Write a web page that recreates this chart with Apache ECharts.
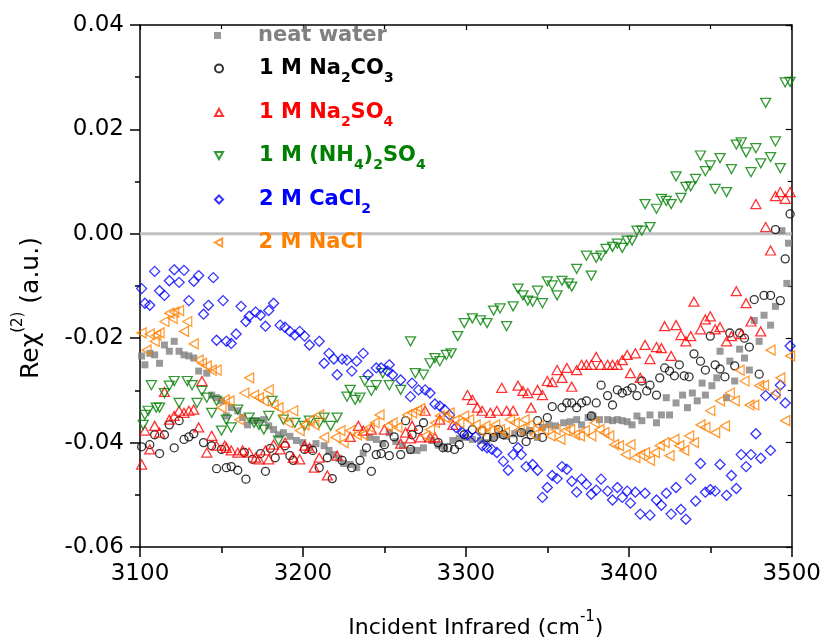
<!DOCTYPE html>
<html><head><meta charset="utf-8">
<script src="https://cdn.jsdelivr.net/npm/echarts@6/dist/echarts.min.js"></script>
<style>html,body{margin:0;padding:0;background:#fff}#c{width:824px;height:644px}</style>
</head><body><div id="c"></div>
<script>
// ---------- data ----------
const xTicks = [3100, 3200, 3300, 3400, 3500];
const yTicks = [-0.06, -0.04, -0.02, 0.00, 0.02, 0.04];
const seriesNames = ['neat water', '1 M Na2CO3', '1 M Na2SO4', '1 M (NH4)2SO4', '2 M CaCl2', '2 M NaCl'];
const legendLabels = [
  '{t|neat water}',
  '{t|1 M Na}{s|2}{t|CO}{s|3}',
  '{t|1 M Na}{s|2}{t|SO}{s|4}',
  '{t|1 M (NH}{s|4}{t|)}{s|2}{t|SO}{s|4}',
  '{t|2 M CaCl}{s|2}',
  '{t|2 M NaCl}'
];
const neatWater = [[3101,-0.0234],[3103,-0.0251],[3106,-0.0229],[3109,-0.0232],[3112,-0.0248],[3115,-0.0213],[3118,-0.0225],[3121,-0.0206],[3124,-0.0225],[3127,-0.0232],[3130,-0.0234],[3133,-0.0238],[3136,-0.0263],[3141,-0.0267],[3144,-0.0309],[3147,-0.0314],[3150,-0.0320],[3153,-0.0349],[3156,-0.0333],[3160,-0.0339],[3163,-0.0352],[3166,-0.0366],[3169,-0.0358],[3172,-0.0358],[3176,-0.0356],[3179,-0.0368],[3182,-0.0375],[3185,-0.0385],[3188,-0.0381],[3192,-0.0388],[3196,-0.0396],[3200,-0.0400],[3204,-0.0410],[3208,-0.0402],[3213,-0.0406],[3216,-0.0415],[3219,-0.0423],[3222,-0.0430],[3225,-0.0440],[3229,-0.0442],[3233,-0.0448],[3237,-0.0420],[3241,-0.0390],[3245,-0.0394],[3249,-0.0402],[3253,-0.0381],[3257,-0.0398],[3261,-0.0405],[3266,-0.0415],[3270,-0.0415],[3274,-0.0410],[3279,-0.0396],[3283,-0.0405],[3287,-0.0410],[3292,-0.0396],[3296,-0.0392],[3300,-0.0390],[3304,-0.0394],[3309,-0.0396],[3313,-0.0400],[3317,-0.0390],[3321,-0.0385],[3325,-0.0388],[3330,-0.0383],[3335,-0.0381],[3339,-0.0377],[3344,-0.0390],[3347,-0.0371],[3351,-0.0366],[3355,-0.0368],[3360,-0.0362],[3364,-0.0360],[3368,-0.0356],[3371,-0.0366],[3375,-0.0352],[3378,-0.0349],[3382,-0.0356],[3387,-0.0356],[3390,-0.0358],[3393,-0.0356],[3396,-0.0358],[3399,-0.0360],[3402,-0.0366],[3405,-0.0349],[3408,-0.0358],[3413,-0.0347],[3417,-0.0362],[3420,-0.0347],[3423,-0.0314],[3425,-0.0347],[3429,-0.0324],[3433,-0.0309],[3436,-0.0333],[3439,-0.0305],[3442,-0.0320],[3445,-0.0286],[3447,-0.0309],[3451,-0.0291],[3454,-0.0276],[3456,-0.0225],[3460,-0.0314],[3462,-0.0244],[3465,-0.0282],[3468,-0.0221],[3471,-0.0238],[3474,-0.0261],[3477,-0.0166],[3480,-0.0206],[3483,-0.0156],[3487,-0.0175],[3490,-0.0139],[3494,0.0006],[3497,-0.0095],[3498,-0.0018]];
const na2co3 = [[3101,-0.0408],[3106,-0.0404],[3109,-0.0385],[3112,-0.0421],[3115,-0.0385],[3118,-0.0366],[3121,-0.0410],[3124,-0.0358],[3127,-0.0394],[3130,-0.0389],[3133,-0.0383],[3139,-0.0400],[3144,-0.0406],[3147,-0.0450],[3150,-0.0413],[3153,-0.0448],[3156,-0.0446],[3160,-0.0453],[3164,-0.0419],[3165,-0.0470],[3169,-0.0432],[3174,-0.0421],[3177,-0.0455],[3180,-0.0411],[3183,-0.0429],[3189,-0.0406],[3192,-0.0425],[3194,-0.0434],[3201,-0.0413],[3206,-0.0415],[3210,-0.0448],[3215,-0.0429],[3218,-0.0469],[3224,-0.0434],[3230,-0.0448],[3235,-0.0434],[3239,-0.0410],[3242,-0.0455],[3245,-0.0423],[3248,-0.0421],[3250,-0.0404],[3253,-0.0425],[3256,-0.0389],[3260,-0.0423],[3263,-0.0358],[3266,-0.0413],[3267,-0.0385],[3271,-0.0375],[3274,-0.0362],[3283,-0.0400],[3286,-0.0410],[3289,-0.0410],[3293,-0.0413],[3296,-0.0404],[3299,-0.0385],[3304,-0.0375],[3310,-0.0377],[3313,-0.0390],[3317,-0.0390],[3320,-0.0375],[3323,-0.0385],[3329,-0.0394],[3334,-0.0381],[3337,-0.0398],[3340,-0.0385],[3344,-0.0358],[3347,-0.0390],[3350,-0.0352],[3353,-0.0331],[3359,-0.0333],[3362,-0.0324],[3365,-0.0324],[3368,-0.0333],[3371,-0.0324],[3374,-0.0320],[3377,-0.0349],[3380,-0.0324],[3383,-0.0290],[3387,-0.0310],[3390,-0.0328],[3393,-0.0299],[3396,-0.0305],[3399,-0.0301],[3402,-0.0295],[3405,-0.0310],[3408,-0.0282],[3411,-0.0301],[3413,-0.0290],[3417,-0.0309],[3419,-0.0276],[3422,-0.0257],[3425,-0.0263],[3428,-0.0272],[3431,-0.0251],[3434,-0.0272],[3437,-0.0274],[3440,-0.0230],[3444,-0.0244],[3447,-0.0261],[3450,-0.0196],[3453,-0.0251],[3456,-0.0259],[3459,-0.0274],[3462,-0.0190],[3465,-0.0253],[3468,-0.0190],[3471,-0.0200],[3474,-0.0217],[3477,-0.0126],[3480,-0.0269],[3483,-0.0118],[3487,-0.0118],[3490,0.0008],[3493,-0.0128],[3496,-0.0048],[3499,0.0038]];
const na2so4 = [[3101,-0.0442],[3103,-0.0377],[3106,-0.0413],[3109,-0.0368],[3112,-0.0381],[3115,-0.0303],[3118,-0.0356],[3121,-0.0349],[3124,-0.0339],[3127,-0.0343],[3130,-0.0339],[3133,-0.0337],[3136,-0.0371],[3138,-0.0282],[3141,-0.0419],[3144,-0.0387],[3147,-0.0406],[3152,-0.0406],[3153,-0.0410],[3156,-0.0415],[3160,-0.0419],[3163,-0.0415],[3167,-0.0419],[3171,-0.0429],[3173,-0.0432],[3177,-0.0415],[3179,-0.0432],[3182,-0.0404],[3186,-0.0413],[3189,-0.0400],[3194,-0.0429],[3198,-0.0432],[3201,-0.0406],[3204,-0.0410],[3207,-0.0448],[3210,-0.0429],[3215,-0.0463],[3221,-0.0425],[3229,-0.0389],[3234,-0.0368],[3237,-0.0377],[3242,-0.0375],[3250,-0.0375],[3260,-0.0402],[3263,-0.0381],[3266,-0.0392],[3267,-0.0368],[3272,-0.0390],[3275,-0.0339],[3278,-0.0390],[3281,-0.0390],[3284,-0.0356],[3292,-0.0366],[3301,-0.0309],[3304,-0.0318],[3307,-0.0333],[3310,-0.0339],[3315,-0.0343],[3319,-0.0339],[3322,-0.0295],[3325,-0.0339],[3329,-0.0339],[3332,-0.0291],[3335,-0.0301],[3338,-0.0305],[3340,-0.0333],[3344,-0.0299],[3347,-0.0309],[3350,-0.0282],[3353,-0.0284],[3356,-0.0261],[3359,-0.0276],[3362,-0.0257],[3365,-0.0293],[3368,-0.0261],[3371,-0.0251],[3374,-0.0251],[3377,-0.0251],[3380,-0.0236],[3383,-0.0251],[3387,-0.0251],[3390,-0.0251],[3393,-0.0251],[3396,-0.0242],[3399,-0.0232],[3401,-0.0267],[3404,-0.0229],[3407,-0.0276],[3410,-0.0213],[3413,-0.0240],[3417,-0.0217],[3420,-0.0219],[3422,-0.0177],[3426,-0.0234],[3429,-0.0175],[3432,-0.0194],[3435,-0.0206],[3438,-0.0196],[3440,-0.0130],[3444,-0.0183],[3447,-0.0164],[3450,-0.0158],[3453,-0.0183],[3456,-0.0179],[3460,-0.0206],[3463,-0.0196],[3466,-0.0110],[3469,-0.0192],[3472,-0.0133],[3475,-0.0168],[3478,0.0057],[3481,-0.0187],[3484,0.0013],[3487,-0.0032],[3490,0.0072],[3493,0.0080],[3496,0.0067],[3499,0.0080]];
const nh4so4 = [[3102,-0.0366],[3103,-0.0347],[3105,-0.0339],[3107,-0.0290],[3110,-0.0333],[3112,-0.0333],[3115,-0.0305],[3118,-0.0291],[3121,-0.0282],[3124,-0.0324],[3129,-0.0282],[3132,-0.0290],[3135,-0.0324],[3138,-0.0301],[3141,-0.0314],[3144,-0.0343],[3147,-0.0320],[3150,-0.0377],[3153,-0.0356],[3156,-0.0371],[3160,-0.0337],[3167,-0.0352],[3170,-0.0362],[3173,-0.0366],[3176,-0.0375],[3179,-0.0349],[3181,-0.0320],[3185,-0.0396],[3188,-0.0356],[3195,-0.0362],[3201,-0.0368],[3204,-0.0358],[3210,-0.0362],[3213,-0.0352],[3217,-0.0368],[3221,-0.0352],[3227,-0.0312],[3229,-0.0299],[3232,-0.0318],[3235,-0.0314],[3238,-0.0282],[3242,-0.0301],[3245,-0.0290],[3249,-0.0267],[3253,-0.0290],[3260,-0.0299],[3266,-0.0206],[3269,-0.0267],[3274,-0.0270],[3278,-0.0248],[3281,-0.0238],[3284,-0.0244],[3288,-0.0232],[3291,-0.0229],[3295,-0.0196],[3299,-0.0171],[3304,-0.0162],[3309,-0.0166],[3313,-0.0171],[3317,-0.0147],[3321,-0.0143],[3325,-0.0177],[3329,-0.0139],[3332,-0.0105],[3335,-0.0118],[3338,-0.0128],[3341,-0.0130],[3344,-0.0109],[3347,-0.0133],[3350,-0.0091],[3353,-0.0099],[3356,-0.0118],[3359,-0.0090],[3363,-0.0095],[3365,-0.0101],[3368,-0.0067],[3374,-0.0042],[3377,-0.0080],[3380,-0.0046],[3383,-0.0042],[3386,-0.0029],[3390,-0.0025],[3393,-0.0019],[3396,-0.0027],[3399,-0.0013],[3402,-0.0013],[3405,0.0006],[3408,0.0006],[3410,0.0057],[3413,0.0013],[3417,0.0048],[3420,0.0067],[3423,0.0063],[3426,0.0057],[3429,0.0110],[3432,0.0069],[3435,0.0090],[3438,0.0091],[3441,0.0105],[3444,0.0150],[3447,0.0120],[3450,0.0131],[3453,0.0086],[3456,0.0145],[3460,0.0080],[3463,0.0124],[3466,0.0171],[3469,0.0175],[3472,0.0156],[3475,0.0118],[3478,0.0164],[3481,0.0135],[3484,0.0251],[3487,0.0147],[3490,0.0177],[3493,0.0126],[3496,0.0290],[3499,0.0291]];
const cacl2 = [[3101,-0.0105],[3103,-0.0133],[3106,-0.0137],[3109,-0.0072],[3112,-0.0109],[3115,-0.0118],[3118,-0.0090],[3121,-0.0069],[3124,-0.0093],[3127,-0.0070],[3130,-0.0128],[3133,-0.0091],[3136,-0.0080],[3139,-0.0154],[3142,-0.0137],[3145,-0.0084],[3147,-0.0204],[3151,-0.0128],[3153,-0.0206],[3156,-0.0210],[3159,-0.0192],[3162,-0.0139],[3165,-0.0168],[3167,-0.0158],[3171,-0.0150],[3174,-0.0156],[3177,-0.0177],[3179,-0.0147],[3182,-0.0133],[3186,-0.0175],[3189,-0.0179],[3192,-0.0187],[3195,-0.0194],[3198,-0.0187],[3201,-0.0196],[3204,-0.0213],[3210,-0.0206],[3213,-0.0248],[3216,-0.0229],[3219,-0.0240],[3221,-0.0270],[3224,-0.0240],[3227,-0.0242],[3230,-0.0263],[3233,-0.0244],[3237,-0.0229],[3240,-0.0270],[3245,-0.0257],[3248,-0.0257],[3252,-0.0263],[3253,-0.0251],[3255,-0.0270],[3260,-0.0280],[3266,-0.0312],[3267,-0.0286],[3271,-0.0299],[3275,-0.0299],[3278,-0.0305],[3281,-0.0326],[3284,-0.0330],[3287,-0.0337],[3290,-0.0347],[3294,-0.0371],[3298,-0.0381],[3301,-0.0385],[3306,-0.0389],[3310,-0.0406],[3313,-0.0410],[3316,-0.0413],[3319,-0.0419],[3323,-0.0436],[3326,-0.0453],[3329,-0.0423],[3332,-0.0410],[3334,-0.0423],[3337,-0.0446],[3341,-0.0442],[3344,-0.0453],[3347,-0.0505],[3350,-0.0486],[3353,-0.0463],[3356,-0.0469],[3359,-0.0446],[3362,-0.0451],[3365,-0.0474],[3368,-0.0495],[3371,-0.0470],[3374,-0.0480],[3377,-0.0499],[3380,-0.0491],[3383,-0.0470],[3387,-0.0493],[3390,-0.0510],[3393,-0.0486],[3396,-0.0505],[3399,-0.0493],[3401,-0.0516],[3404,-0.0495],[3407,-0.0537],[3410,-0.0497],[3413,-0.0539],[3417,-0.0510],[3420,-0.0520],[3423,-0.0497],[3426,-0.0537],[3429,-0.0486],[3432,-0.0528],[3435,-0.0547],[3438,-0.0470],[3441,-0.0512],[3444,-0.0440],[3447,-0.0495],[3450,-0.0490],[3453,-0.0493],[3456,-0.0442],[3460,-0.0501],[3463,-0.0463],[3466,-0.0488],[3469,-0.0423],[3472,-0.0446],[3475,-0.0423],[3478,-0.0383],[3481,-0.0430],[3484,-0.0310],[3487,-0.0415],[3490,-0.0309],[3493,-0.0290],[3496,-0.0324],[3499,-0.0215]];
const nacl = [[3101,-0.0190],[3104,-0.0223],[3106,-0.0192],[3109,-0.0206],[3110,-0.0194],[3112,-0.0190],[3115,-0.0168],[3118,-0.0152],[3120,-0.0162],[3121,-0.0150],[3124,-0.0147],[3127,-0.0187],[3129,-0.0168],[3133,-0.0211],[3136,-0.0242],[3138,-0.0248],[3141,-0.0253],[3144,-0.0261],[3147,-0.0261],[3150,-0.0333],[3152,-0.0318],[3155,-0.0320],[3161,-0.0356],[3164,-0.0305],[3167,-0.0276],[3170,-0.0309],[3173,-0.0314],[3176,-0.0320],[3179,-0.0299],[3182,-0.0328],[3185,-0.0333],[3188,-0.0349],[3191,-0.0362],[3194,-0.0339],[3198,-0.0377],[3201,-0.0366],[3204,-0.0358],[3207,-0.0366],[3210,-0.0347],[3213,-0.0390],[3220,-0.0390],[3223,-0.0377],[3225,-0.0400],[3229,-0.0377],[3233,-0.0385],[3237,-0.0385],[3241,-0.0371],[3244,-0.0362],[3247,-0.0347],[3252,-0.0368],[3255,-0.0362],[3258,-0.0371],[3264,-0.0347],[3267,-0.0343],[3270,-0.0339],[3272,-0.0335],[3275,-0.0387],[3278,-0.0375],[3281,-0.0362],[3284,-0.0349],[3287,-0.0352],[3290,-0.0343],[3293,-0.0358],[3296,-0.0362],[3299,-0.0349],[3302,-0.0356],[3306,-0.0366],[3309,-0.0377],[3312,-0.0368],[3315,-0.0377],[3318,-0.0366],[3321,-0.0375],[3324,-0.0381],[3327,-0.0356],[3330,-0.0362],[3333,-0.0375],[3336,-0.0356],[3339,-0.0366],[3342,-0.0385],[3345,-0.0368],[3348,-0.0375],[3352,-0.0387],[3355,-0.0375],[3358,-0.0394],[3361,-0.0377],[3364,-0.0375],[3367,-0.0385],[3370,-0.0387],[3373,-0.0377],[3377,-0.0387],[3379,-0.0362],[3382,-0.0375],[3385,-0.0381],[3388,-0.0387],[3391,-0.0404],[3394,-0.0406],[3398,-0.0423],[3401,-0.0404],[3404,-0.0429],[3407,-0.0423],[3410,-0.0419],[3413,-0.0434],[3416,-0.0419],[3419,-0.0406],[3422,-0.0400],[3425,-0.0425],[3428,-0.0394],[3431,-0.0406],[3434,-0.0415],[3437,-0.0387],[3440,-0.0400],[3444,-0.0366],[3447,-0.0371],[3450,-0.0339],[3453,-0.0381],[3456,-0.0320],[3459,-0.0368],[3462,-0.0305],[3465,-0.0320],[3468,-0.0261],[3471,-0.0282],[3474,-0.0328],[3477,-0.0328],[3480,-0.0291],[3483,-0.0290],[3487,-0.0223],[3490,-0.0305],[3493,-0.0276],[3496,-0.0358],[3499,-0.0234]];
const zeroLine = [[3100, 0], [3500, 0]];

// ---------- styling ----------
const FONT = 'DejaVu Sans';
const colors = ['#808080', '#000000', '#ff0000', '#008000', '#0000ff', '#ff8000'];
const datasets = [neatWater, na2co3, na2so4, nh4so4, cacl2, nacl];
const symbols = ['rect', 'circle', 'triangle', 'triangle', 'diamond', 'triangle'];
const rotations = [0, 0, 0, 180, 0, 90];
const sizes = [7, 8, [10, 9], [10, 9], 10, [10, 9]];
const legendIcons = ['rect', 'circle', 'path://M5,0L10,9L0,9Z', 'path://M0,0L10,0L5,9Z', 'diamond', 'path://M9,0L9,10L0,5Z'];
const legendSizes = [7, 8, 8, 8, 8, 8];
const legendCenters = [42, 75, 119, 162, 206, 249];

const chart = echarts.init(document.getElementById('c'), null, {renderer: 'canvas'});

const scatterSeries = datasets.map((d, i) => ({
  name: seriesNames[i],
  type: 'scatter',
  data: d,
  symbol: symbols[i],
  symbolRotate: rotations[i],
  symbolSize: sizes[i],
  z: 3 + i,
  itemStyle: i === 0
    ? {color: colors[i]}
    : {color: 'rgba(255,255,255,0)', borderColor: colors[i], borderWidth: 1.3},
  emphasis: {disabled: true}
}));

const legends = seriesNames.map((n, i) => ({
  data: [{name: n, icon: legendIcons[i]}],
  left: 214,
  top: legendCenters[i] - 17,
  padding: 0,
  itemWidth: legendSizes[i],
  itemHeight: legendSizes[i],
  selectedMode: false,
  formatter: () => '{sp| }' + legendLabels[i],
  textStyle: {
    color: colors[i],
    rich: {
      sp: {width: 39 - legendSizes[i], lineHeight: 34},
      t: {fontSize: 21, fontWeight: 'bold', fontFamily: FONT, color: colors[i], lineHeight: 24, verticalAlign: 'middle'},
      s: {fontSize: 14, fontWeight: 'bold', fontFamily: FONT, color: colors[i], lineHeight: 14, verticalAlign: 'bottom'}
    }
  }
}));

const axisLine = {show: true, onZero: false, lineStyle: {color: '#000', width: 1.5}};
const fmtY = v => (Math.abs(v) < 1e-9 ? 0 : v).toFixed(2);
const fmtX = v => String(Math.round(v));

chart.setOption({
  animation: false,
  backgroundColor: '#fff',
  grid: {left: 140, right: 32, top: 25, bottom: 94, containLabel: false},
  legend: legends,
  xAxis: [{
    type: 'value', position: 'bottom',
    min: xTicks[0], max: xTicks[xTicks.length - 1], interval: xTicks[1] - xTicks[0],
    axisLine: axisLine,
    axisTick: {show: true, inside: false, length: 10, lineStyle: {color: '#000', width: 1.5}},
    minorTick: {show: true, splitNumber: 2, length: 6, lineStyle: {color: '#000', width: 1.5}},
    splitLine: {show: false},
    axisLabel: {fontSize: 23, fontFamily: FONT, color: '#000', margin: 16, formatter: fmtX},
    name: '{g| }{m|Incident Infrared (cm}{u|-1}{m|)}',
    nameLocation: 'middle', nameGap: 63,
    nameTextStyle: {rich: {
      g: {width: 20, lineHeight: 36},
      m: {fontSize: 22, fontFamily: FONT, color: '#000', lineHeight: 36, verticalAlign: 'middle'},
      u: {fontSize: 15, fontFamily: FONT, color: '#000', lineHeight: 20, verticalAlign: 'top'}
    }}
  }, {
    type: 'value', position: 'top',
    min: xTicks[0], max: xTicks[xTicks.length - 1], interval: xTicks[1] - xTicks[0],
    axisLine: axisLine,
    axisTick: {show: true, inside: true, length: 5, lineStyle: {color: '#000', width: 1.2}},
    minorTick: {show: true, splitNumber: 2, length: 4, lineStyle: {color: '#000', width: 1.2}},
    splitLine: {show: false}, axisLabel: {show: false}
  }],
  yAxis: [{
    type: 'value', position: 'left',
    min: yTicks[0], max: yTicks[yTicks.length - 1], interval: yTicks[1] - yTicks[0],
    axisLine: axisLine,
    axisTick: {show: true, inside: false, length: 10, lineStyle: {color: '#000', width: 1.5}},
    minorTick: {show: true, splitNumber: 2, length: 5, lineStyle: {color: '#000', width: 1.5}},
    splitLine: {show: false},
    axisLabel: {fontSize: 23, fontFamily: FONT, color: '#000', margin: 16, formatter: fmtY},
    name: '{m|Reχ}{u|(2)}{m| (a.u.)}{g| }',
    nameLocation: 'middle', nameGap: 89, nameRotate: 90,
    nameTextStyle: {rich: {
      g: {width: 44, lineHeight: 40},
      m: {fontSize: 25, fontFamily: FONT, color: '#000', lineHeight: 40, verticalAlign: 'middle'},
      u: {fontSize: 15, fontFamily: FONT, color: '#000', lineHeight: 16, verticalAlign: 'top'}
    }}
  }, {
    type: 'value', position: 'right',
    min: yTicks[0], max: yTicks[yTicks.length - 1], interval: yTicks[1] - yTicks[0],
    axisLine: axisLine,
    axisTick: {show: true, inside: true, length: 6, lineStyle: {color: '#000', width: 1.2}},
    minorTick: {show: true, splitNumber: 2, length: 4, lineStyle: {color: '#000', width: 1.2}},
    splitLine: {show: false}, axisLabel: {show: false}
  }],
  series: [{
    name: 'zero', type: 'line', data: zeroLine, symbol: 'none', z: 2,
    lineStyle: {color: '#c0c0c0', width: 3}, silent: true
  }].concat(scatterSeries)
});
</script>
</body></html>
